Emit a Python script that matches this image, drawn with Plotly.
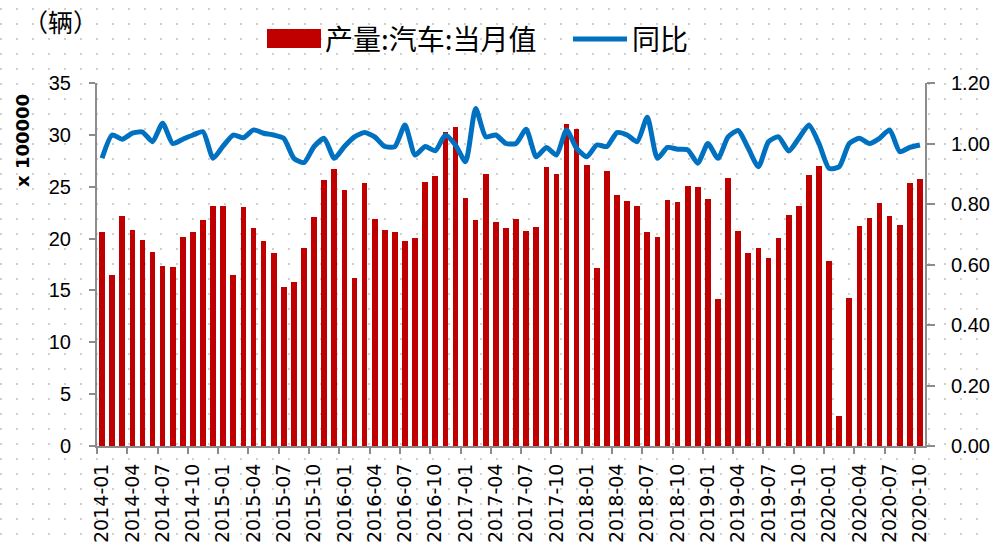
import plotly.graph_objects as go

# Monthly labels, 2014-01 .. 2020-10
months = [f"{y}-{m:02d}" for y in range(2014, 2021) for m in range(1, 13)][:82]

# Automobile output, monthly value (unit: 100000 vehicles)
output_2014 = [20.6, 16.5, 22.2, 20.8, 19.9, 18.7, 17.4, 17.3, 20.2, 20.6, 21.8, 23.1]
output_2015 = [23.1, 16.5, 23.0, 21.0, 19.8, 18.65, 15.3, 15.8, 19.1, 22.1, 25.6, 26.7]
output_2016 = [24.7, 16.2, 25.4, 21.9, 20.8, 20.65, 19.8, 20.1, 25.5, 26.0, 30.3, 30.8]
output_2017 = [23.9, 21.75, 26.2, 21.6, 21.0, 21.85, 20.75, 21.1, 26.9, 26.2, 31.0, 30.6]
output_2018 = [27.1, 17.2, 26.5, 24.2, 23.6, 23.1, 20.6, 20.2, 23.75, 23.5, 25.1, 25.0]
output_2019 = [23.85, 14.2, 25.8, 20.7, 18.6, 19.1, 18.1, 20.1, 22.3, 23.1, 26.1, 27.0]
output_2020 = [17.8, 2.9, 14.3, 21.2, 22.0, 23.4, 22.2, 21.3, 25.4, 25.7]

# Year-on-year ratio
yoy_2014 = [0.951, 1.028, 1.014, 1.034, 1.038, 1.006, 1.067, 1.000, 1.014, 1.028, 1.039, 0.951]
yoy_2015 = [0.992, 1.028, 1.019, 1.045, 1.034, 1.028, 1.017, 0.951, 0.937, 0.990, 1.017, 0.951]
yoy_2016 = [0.990, 1.022, 1.036, 1.022, 0.990, 0.990, 1.061, 0.962, 0.990, 0.976, 1.028, 0.995]
yoy_2017 = [0.940, 1.116, 1.022, 1.028, 1.000, 1.000, 1.047, 0.956, 0.987, 0.962, 1.045, 0.984]
yoy_2018 = [0.956, 0.995, 0.990, 1.036, 1.028, 1.006, 1.087, 0.951, 0.987, 0.981, 0.979, 0.935]
yoy_2019 = [1.000, 0.951, 1.022, 1.043, 0.984, 0.923, 1.006, 1.022, 0.975, 1.017, 1.061, 1.000]
yoy_2020 = [0.918, 0.923, 1.000, 1.017, 1.000, 1.017, 1.045, 0.973, 0.987, 0.995]

output = output_2014 + output_2015 + output_2016 + output_2017 + output_2018 + output_2019 + output_2020
yoy = yoy_2014 + yoy_2015 + yoy_2016 + yoy_2017 + yoy_2018 + yoy_2019 + yoy_2020

bar_name = "产量:汽车:当月值"
line_name = "同比"
unit_label = "（辆）"
scale_label = "x 100000"

RED = "#C00000"
BLUE = "#0070C0"
AXIS = "#8C8C8C"
DOT = "#CFCFCF"

W, H = 992, 546
ML, MR, MT, MB = 97, 67, 83, 100
PW, PH = W - ML - MR, H - MT - MB


def px_x(x):
    return (x - ML) / PW


def px_y(y):
    return (H - MB - y) / PH


idx = list(range(len(months)))
label_idx = idx[::3]

fig = go.Figure()
fig.add_trace(go.Bar(
    x=idx, y=output, name=bar_name, marker=dict(color=RED, line=dict(width=0)),
    width=0.56, showlegend=False,
))
fig.add_trace(go.Scatter(
    x=idx, y=yoy, name=line_name, yaxis="y2", mode="lines",
    line=dict(color=BLUE, width=5, shape="spline", smoothing=0.6),
    showlegend=False,
))

# faint dotted background pattern across the whole page
shapes = []
yy = 9
while yy < H:
    shapes.append(dict(
        type="line", xref="paper", yref="paper", layer="below",
        x0=px_x(0), x1=px_x(W), y0=px_y(yy), y1=px_y(yy),
        line=dict(color=DOT, width=2, dash="2px,14px"),
    ))
    yy += 15

# legend swatches
shapes.append(dict(
    type="rect", xref="paper", yref="paper",
    x0=px_x(267), x1=px_x(321), y0=px_y(48), y1=px_y(29),
    fillcolor=RED, line=dict(width=0),
))
shapes.append(dict(
    type="line", xref="paper", yref="paper",
    x0=px_x(573), x1=px_x(627), y0=px_y(39), y1=px_y(39),
    line=dict(color=BLUE, width=5),
))

cjk = "Noto Sans CJK SC"
annotations = [
    dict(text=bar_name, x=px_x(323), y=px_y(38), xref="paper", yref="paper",
         xanchor="left", yanchor="middle", showarrow=False,
         font=dict(family=cjk, size=28, color="#000000")),
    dict(text=line_name, x=px_x(630), y=px_y(38), xref="paper", yref="paper",
         xanchor="left", yanchor="middle", showarrow=False,
         font=dict(family=cjk, size=28, color="#000000")),
    dict(text=unit_label, x=px_x(60), y=px_y(21), xref="paper", yref="paper",
         xanchor="center", yanchor="middle", showarrow=False,
         font=dict(family=cjk, size=25, color="#000000")),
    dict(text=f"<b>{scale_label}</b>", x=px_x(23), y=px_y(141), xref="paper", yref="paper",
         xanchor="center", yanchor="middle", showarrow=False, textangle=-90,
         font=dict(family="DejaVu Sans", size=18, color="#000000")),
]

fig.update_layout(
    width=W, height=H,
    margin=dict(l=ML, r=MR, t=MT, b=MB, pad=0),
    paper_bgcolor="#FFFFFF", plot_bgcolor="rgba(0,0,0,0)",
    bargap=0, showlegend=False,
    shapes=shapes, annotations=annotations,
    xaxis=dict(
        range=[-0.5, len(months) - 0.5], showgrid=False, zeroline=False,
        showline=True, linecolor=AXIS, linewidth=2,
        tickmode="array", tickvals=label_idx, ticktext=[months[i] for i in label_idx],
        tickangle=-90, ticks="", ticklabelstandoff=8,
        tickfont=dict(family="DejaVu Sans", size=19, color="#000000"),
        minor=dict(tickmode="array", tickvals=[i - 0.5 for i in label_idx],
                   ticks="outside", ticklen=6, tickwidth=2, tickcolor=AXIS, showgrid=False),
        automargin=False, fixedrange=True,
    ),
    yaxis=dict(
        range=[0, 35], dtick=5, showgrid=False, zeroline=False,
        showline=True, linecolor=AXIS, linewidth=2,
        ticks="outside", ticklen=6, tickwidth=2, tickcolor=AXIS, ticklabelstandoff=14,
        tickfont=dict(family="Liberation Sans", size=20, color="#000000"),
        automargin=False,
    ),
    yaxis2=dict(
        range=[0, 1.2], dtick=0.2, tickformat=".2f", overlaying="y", side="right",
        showgrid=False, zeroline=False,
        showline=True, linecolor=AXIS, linewidth=2,
        ticks="outside", ticklen=8, tickwidth=2, tickcolor=AXIS, ticklabelstandoff=12,
        tickfont=dict(family="Liberation Sans", size=20, color="#000000"),
        automargin=False,
    ),
)

fig.write_html("out.html")
